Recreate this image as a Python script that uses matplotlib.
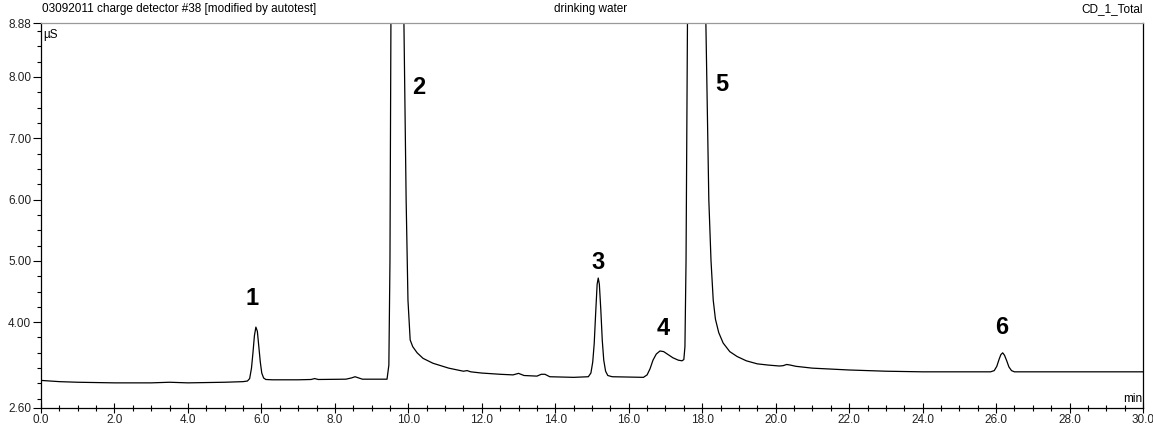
import matplotlib
matplotlib.use("Agg")
import numpy as np
from matplotlib import pyplot as plt
from matplotlib.ticker import MultipleLocator, FixedLocator

plt.rcParams['font.family'] = ['Liberation Sans', 'DejaVu Sans']

# trace (min, uS)
time_min = [0.0, 0.5, 1.0, 2.0, 3.0, 3.5, 4.0, 5.0, 5.5, 5.62,
            5.68, 5.73, 5.77, 5.81, 5.85, 5.89, 5.93, 5.97, 6.01, 6.06,
            6.12, 6.3, 7.0, 7.35, 7.45, 7.55, 8.3, 8.45, 8.55, 8.65,
            8.75, 9.42, 9.47, 9.5, 9.53, 9.7, 9.88, 9.94, 9.99, 10.05,
            10.12, 10.24, 10.4, 10.67, 11.1, 11.5, 11.6, 11.7, 12.0, 12.5,
            12.85, 13.0, 13.15, 13.5, 13.62, 13.72, 13.85, 14.5, 14.9, 14.97,
            15.02, 15.06, 15.1, 15.14, 15.17, 15.2, 15.24, 15.28, 15.32, 15.37,
            15.43, 15.55, 16.4, 16.5, 16.58, 16.66, 16.75, 16.85, 16.95, 17.05,
            17.2, 17.35, 17.45, 17.5, 17.53, 17.56, 17.6, 17.85, 18.1, 18.18,
            18.24, 18.3, 18.36, 18.45, 18.57, 18.75, 18.95, 19.2, 19.5, 19.8,
            20.1, 20.2, 20.3, 20.4, 20.55, 21.0, 21.5, 22.0, 23.0, 24.0,
            25.0, 25.85, 25.95, 26.02, 26.08, 26.13, 26.18, 26.23, 26.29, 26.35,
            26.42, 26.5, 27.0, 28.0, 30.0]
signal_us = [3.05, 3.03, 3.02, 3.01, 3.01, 3.02, 3.01, 3.02, 3.03, 3.04,
             3.08, 3.25, 3.50, 3.78, 3.92, 3.85, 3.60, 3.35, 3.17, 3.09,
             3.065, 3.06, 3.06, 3.065, 3.08, 3.065, 3.07, 3.09, 3.11, 3.09,
             3.07, 3.07, 3.30, 5.00, 9.50, 20.0, 8.88, 6.00, 4.36, 3.71,
             3.60, 3.50, 3.41, 3.33, 3.25, 3.20, 3.21, 3.19, 3.17, 3.15,
             3.14, 3.165, 3.13, 3.12, 3.15, 3.15, 3.11, 3.10, 3.11, 3.17,
             3.35, 3.65, 4.15, 4.62, 4.72, 4.62, 4.20, 3.70, 3.38, 3.20,
             3.13, 3.11, 3.10, 3.14, 3.24, 3.38, 3.48, 3.53, 3.52, 3.48,
             3.42, 3.38, 3.37, 3.39, 3.60, 5.00, 9.00, 20.0, 8.88, 6.00,
             5.00, 4.36, 4.05, 3.83, 3.66, 3.52, 3.44, 3.37, 3.32, 3.30,
             3.285, 3.29, 3.31, 3.30, 3.28, 3.25, 3.235, 3.22, 3.20, 3.19,
             3.19, 3.19, 3.21, 3.28, 3.39, 3.47, 3.50, 3.46, 3.37, 3.27,
             3.21, 3.19, 3.19, 3.19, 3.19]

peak_names = ['1', '2', '3', '4', '5', '6']
peak_label_time = [5.75, 10.29, 15.17, 16.93, 18.54, 26.16]
peak_label_signal = [4.39, 7.82, 4.98, 3.90, 7.87, 3.92]

y_labels = [2.60, 4.00, 5.00, 6.00, 7.00, 8.00, 8.88]
x_labels = np.arange(0.0, 30.1, 2.0)

fig = plt.figure(figsize=(11.53, 4.30), dpi=100)
ax = fig.add_axes([41 / 1153, 22 / 430, 1102 / 1153, 385 / 430])

ax.plot(time_min, signal_us, color='black', linewidth=0.9)
for name, t, s in zip(peak_names, peak_label_time, peak_label_signal):
    ax.text(t, s, name, fontsize=17, fontweight='bold', ha='center', va='center')

ax.set_xlim(0, 30)
ax.set_ylim(2.60, 8.88)

ax.xaxis.set_major_locator(FixedLocator(x_labels))
ax.xaxis.set_minor_locator(MultipleLocator(0.5))
ax.set_xticklabels(['%.1f' % v for v in x_labels])
ax.yaxis.set_major_locator(FixedLocator(y_labels))
ax.yaxis.set_minor_locator(MultipleLocator(0.25))
ax.set_yticklabels(['%.2f' % v for v in y_labels])

ax.tick_params(axis='x', which='major', direction='inout', length=7, width=0.8,
               labelsize=8.5, pad=1, colors='black', labelcolor='#222222')
ax.tick_params(axis='x', which='minor', direction='inout', length=4, width=0.8)
ax.tick_params(axis='y', which='major', direction='out', length=6, width=0.8,
               labelsize=8.5, pad=1, labelcolor='#222222')
ax.tick_params(axis='y', which='minor', direction='out', length=3, width=0.8)

for side in ['left', 'bottom', 'right']:
    ax.spines[side].set_color('black')
    ax.spines[side].set_linewidth(0.9)
ax.spines['top'].set_color('#999999')
ax.spines['top'].set_linewidth(0.9)

ax.text(0.002, 0.985, 'µS', transform=ax.transAxes, fontsize=8.5, va='top', ha='left')
ax.text(0.999, 0.008, 'min', transform=ax.transAxes, fontsize=8.5, va='bottom', ha='right')

fig.text(42 / 1153, 1 - 9 / 430, '03092011 charge detector #38 [modified by autotest]',
         fontsize=8.5, va='center', ha='left')
fig.text(591 / 1153, 1 - 9 / 430, 'drinking water', fontsize=8.5, va='center', ha='center')
fig.text(1143 / 1153, 1 - 9 / 430, 'CD_1_Total', fontsize=8.5, va='center', ha='right')

fig.savefig('out.png', dpi=100)
